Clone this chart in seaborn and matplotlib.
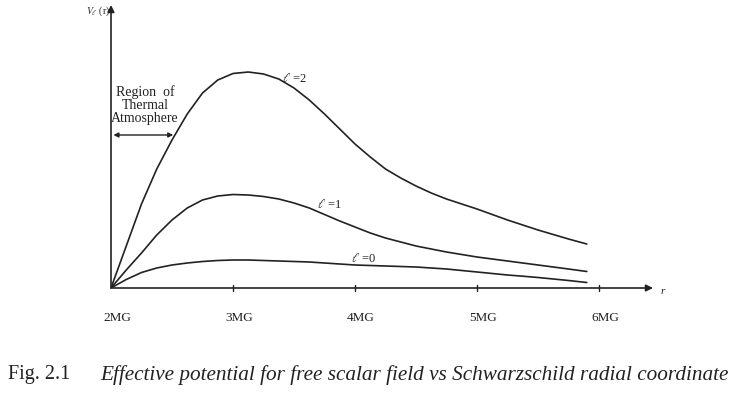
import matplotlib
matplotlib.use("Agg")
import matplotlib.pyplot as plt
import numpy as np
import pandas as pd
import seaborn as sns

# radial coordinate in units of MG
r = [2.0, 2.125, 2.25, 2.375, 2.5, 2.625, 2.75, 2.875, 3.0, 3.125, 3.25,
     3.375, 3.5, 3.625, 3.75, 3.875, 4.0, 4.125, 4.25, 4.375, 4.5, 4.625,
     4.75, 4.875, 5.0, 5.125, 5.25, 5.375, 5.5, 5.625, 5.75, 5.9]

# effective potential (arbitrary units)
v_l2 = [0.00, 0.42, 0.84, 1.19, 1.48, 1.74, 1.95, 2.08, 2.145, 2.16, 2.14,
        2.09, 2.00, 1.88, 1.74, 1.59, 1.44, 1.31, 1.19, 1.10, 1.02, 0.95,
        0.89, 0.84, 0.79, 0.735, 0.68, 0.63, 0.58, 0.535, 0.49, 0.44]
v_l1 = [0.00, 0.18, 0.35, 0.53, 0.68, 0.80, 0.88, 0.92, 0.935, 0.93, 0.915,
        0.89, 0.85, 0.80, 0.735, 0.67, 0.61, 0.55, 0.50, 0.46, 0.42, 0.39,
        0.36, 0.335, 0.31, 0.29, 0.27, 0.25, 0.23, 0.21, 0.19, 0.165]
v_l0 = [0.00, 0.085, 0.155, 0.20, 0.23, 0.25, 0.265, 0.275, 0.28, 0.28,
        0.275, 0.27, 0.265, 0.26, 0.25, 0.24, 0.23, 0.225, 0.22, 0.215,
        0.21, 0.20, 0.19, 0.175, 0.16, 0.145, 0.13, 0.118, 0.105, 0.09,
        0.075, 0.055]

tick_pos = [2, 3, 4, 5, 6]
tick_labels = ["2MG", "3MG", "4MG", "5MG", "6MG"]

curve_labels = ["$\\ell$ =2", "$\\ell$ =1", "$\\ell$ =0"]
label_pos = [(3.40, 2.09), (3.69, 0.84), (3.97, 0.29)]

df = pd.DataFrame({"r": r * 3,
                   "V": v_l2 + v_l1 + v_l0,
                   "l": ["2"] * len(r) + ["1"] * len(r) + ["0"] * len(r)})

sns.set_style("white")
plt.rcParams["font.family"] = ["Liberation Serif", "DejaVu Serif"]
plt.rcParams["mathtext.fontset"] = "stix"

ink = "#222222"
fig = plt.figure(figsize=(7.4, 3.98), dpi=100)
ax = fig.add_axes([111 / 740, 110 / 398, 542 / 740, 283 / 398])

for key in ["2", "1", "0"]:
    sub = df[df["l"] == key]
    sns.lineplot(x=sub["r"].values, y=sub["V"].values, ax=ax, color=ink,
                 linewidth=1.2, estimator=None, sort=False)

ax.set_xlim(2, 2 + 542 / 122)
ax.set_ylim(0, 2.83)
for s in ax.spines.values():
    s.set_visible(False)
ax.set_xticks([])
ax.set_yticks([])

# axes drawn as arrows
ax.annotate("", xy=(1, 0), xytext=(0, 0), xycoords="axes fraction",
            arrowprops=dict(arrowstyle="-|>", color=ink, lw=1.2,
                            mutation_scale=10, shrinkA=0, shrinkB=0))
ax.annotate("", xy=(0, 1), xytext=(0, 0), xycoords="axes fraction",
            arrowprops=dict(arrowstyle="-|>", color=ink, lw=1.2,
                            mutation_scale=10, shrinkA=0, shrinkB=0))

# small tick marks and labels
for t, lab in zip(tick_pos, tick_labels):
    if t > 2:
        ax.plot([t, t], [-0.03, 0.03], color=ink, lw=1.0, clip_on=False)
    ax.text(t + 0.05, -0.30, lab, ha="center", va="center", fontsize=9.5,
            color=ink)

ax.text(2 + 552 / 122, -0.04, "r", ha="center", va="center", fontsize=8,
        style="italic", color=ink)
ax.text(1.995, 2.77, "$V_\\ell$ (r)", ha="right", va="center", fontsize=7,
        color=ink)

for lab, (x, y) in zip(curve_labels, label_pos):
    ax.text(x, y, lab, ha="left", va="center", fontsize=9, color=ink)

ax.text(2.28, 1.83, "Region  of\nThermal\nAtmosphere", ha="center",
        va="center", fontsize=10, linespacing=1.0, color=ink)
ax.annotate("", xy=(2.02, 1.53), xytext=(2.51, 1.53),
            arrowprops=dict(arrowstyle="<|-|>", color=ink, lw=1.0,
                            mutation_scale=7, shrinkA=0, shrinkB=0))

fig.text(8 / 740, 1 - 375 / 398, "Fig. 2.1", ha="left", va="center",
         fontsize=14.5, color=ink)
fig.text(100 / 740, 1 - 375 / 398,
         "Effective potential for free scalar field vs Schwarzschild radial coordinate",
         ha="left", va="center", fontsize=15.3, style="italic", color=ink)

fig.savefig("out.png", dpi=100, facecolor="white")
